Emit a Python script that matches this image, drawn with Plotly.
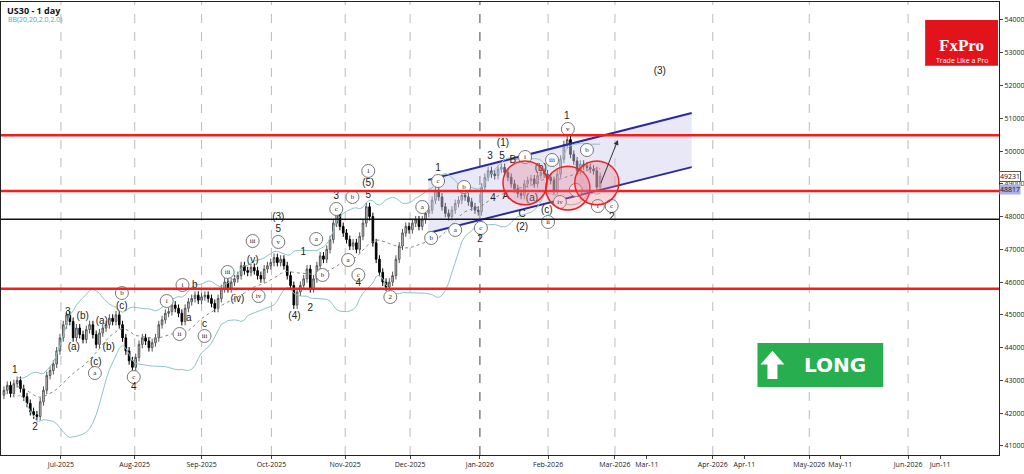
import numpy as np
import pandas as pd
import plotly.graph_objects as go

# daily closes, one per trading-day slot
closes = [42700, 42850, 42600, 42900, 43000, 42750, 42500, 42300, 42050, 41950,
          41900, 42350, 42700, 43150, 43300, 43500, 43900, 44300, 44700, 45000,
          44800, 44300, 44600, 44400, 44250, 44550, 44700, 44400, 44100, 44450,
          44600, 44700, 44900, 44800, 45000, 44700, 44300, 43900, 43600, 43400,
          43700, 44100, 44300, 44200, 44000, 44150, 44300, 44700, 44850, 45050,
          45100, 45300, 45200, 45050, 44800, 45200, 45400, 45500, 45600, 45450,
          45550, 45600, 45500, 45350, 45200, 45500, 45800, 46000, 45800, 46000,
          46100, 46200, 46500, 46350, 46300, 46450, 46350, 46200, 46100, 46400,
          46500, 46600, 46750, 46600, 46700, 46500, 46200, 45900, 45300, 45700,
          45900, 46100, 46400, 45800, 46100, 46500, 46800, 46700, 47000, 47300,
          47800, 48100, 47700, 47500, 47300, 47100, 47200, 47000, 47400, 47800,
          48300, 48000, 47200, 46700, 46300, 46000, 45850, 46000, 46200, 46700,
          47100, 47500, 47700, 47600, 47800, 47900, 47700, 47900, 48100, 48200,
          48500, 48800, 48600, 48300, 48100, 48000, 48200, 48400, 48500, 48650,
          48600, 48450, 48300, 48200, 48150, 48900, 49200, 49400, 49300, 49250,
          49450, 49500, 49350, 49200, 49000, 48850, 48700, 48650, 49000, 49100,
          49150, 49000, 49250, 49350, 49300, 49200, 49100, 48800, 49300, 49750,
          50200, 50350, 49900, 49700, 49400, 49600, 49550, 49500, 49450, 49400,
          48900, 49230]

levels_red = [50480, 48780, 45800]
level_black = 47920

channel_x = [128.8, 208.8]
channel_top = [49120, 51160]
channel_bot = [47500, 49510]

circles_x = [158.2, 171.2, 180.0]
circles_y = [49030, 48870, 49030]

tick_vals = [17.3, 39.7, 60, 81.2, 103.6, 123.3, 144.5, 165.2, 185.5, 195.2,
             215.2, 224.8, 244.5, 253.9, 274.5, 284.2]
tick_text = ["Jul-2025", "Aug-2025", "Sep-2025", "Oct-2025", "Nov-2025", "Dec-2025",
             "Jan-2026", "Feb-2026", "Mar-2026", "Mar-11", "Apr-2026", "Apr-11",
             "May-2026", "May-11", "Jun-2026", "Jun-11"]
price_ticks = list(range(41000, 55000, 1000))

# wave labels (plain text)
plain_txt = ["1", "2", "3", "(a)", "(b)", "(a)", "(b)", "(c)", "(c)", "4", "a", "c", "b",
             "(iv)", "(v)", "(3)", "5", "(4)", "1", "2", "4", "3", "5", "(5)",
             "1", "3", "5", "B", "(1)", "4", "A", "C", "(2)", "1", "2", "2", "(3)",
             "(b)", "(a)", "(c)"]
plain_x = [3.3, 9.4, 19.4, 21.2, 23.9, 29.7, 31.8, 27.9, 35.8, 39.4, 56.1, 60.9, 57.9,
           70.9, 75.5, 83.3, 83.3, 88.2, 90.9, 93.0, 107.6, 100.9, 110.6, 110.6,
           131.8, 147.6, 151.2, 154.5, 151.5, 148.5, 152.4, 157.3, 157.3, 170.9, 184.5, 144.5, 199.1,
           163.0, 160.3, 164.8]
plain_y = [43318, 41578, 45088, 43990, 44936, 44784, 44020, 43562, 45271, 42769, 44905, 44722, 45882,
           45485, 46645, 47987, 47621, 44936, 46889, 45210, 45943, 48598, 48659, 48995,
           49453, 49819, 49819, 49727, 50246, 48537, 48598, 48079, 47682, 51070, 47987, 47286, 52413,
           49453, 48537, 48201]

# wave labels (circled)
circ_txt = ["c", "a", "b", "i", "ii", "i", "iii", "iii", "iv", "v", "iii", "a", "b", "c",
            "b", "a", "c", "2", "1", "c", "b", "a", "a", "b", "c", "i", "ii", "iii", "iv",
            "v", "b", "a", "i", "c"]
circ_x = [39.4, 27.6, 35.8, 49.4, 53.3, 54.2, 60.9, 67.9, 77.3, 83.3, 75.5, 94.8, 96.7, 100.9,
          105.8, 104.5, 107.6, 117.3, 110.6, 131.8, 139.7, 127.0, 137.0, 129.7, 144.8, 158.2, 165.2, 166.4, 168.8,
          171.2, 177.0, 173.6, 180.3, 184.5]
circ_y = [43104, 43226, 45668, 45424, 44417, 45912, 44356, 46309, 45576, 47225, 47255, 47316, 46218, 48232,
          48598, 46675, 46218, 45546, 49392, 49086, 48903, 48293, 47591, 47347, 47652, 49819, 47835, 49727, 48446,
          50673, 50032, 48812, 48323, 48323]

c = pd.Series(closes, dtype=float)
o = c.shift(1).fillna(c.iloc[0] - 150)
hi = np.maximum(o, c) + 120
lo = np.minimum(o, c) - 120
slots = np.arange(len(c))
mid = c.rolling(20, min_periods=5).mean()
sd = c.rolling(20, min_periods=5).std(ddof=0)

fig = go.Figure()

fig.add_trace(go.Scatter(x=channel_x + channel_x[::-1], y=channel_top + channel_bot[::-1],
                         mode="lines", fill="toself", fillcolor="rgba(205,205,235,0.45)",
                         line=dict(width=0), hoverinfo="skip"))
fig.add_trace(go.Scatter(x=channel_x, y=channel_top, mode="lines", line=dict(color="#2a2aa0", width=2)))
fig.add_trace(go.Scatter(x=channel_x, y=channel_bot, mode="lines", line=dict(color="#2a2aa0", width=2)))

fig.add_trace(go.Scatter(x=slots, y=mid + 2 * sd, mode="lines", line=dict(color="#8fc4c4", width=1)))
fig.add_trace(go.Scatter(x=slots, y=mid - 2 * sd, mode="lines", line=dict(color="#8fc4c4", width=1)))
fig.add_trace(go.Scatter(x=slots, y=mid, mode="lines", line=dict(color="#888", width=1, dash="dot")))

fig.add_trace(go.Candlestick(x=slots, open=o, high=hi, low=lo, close=c,
                             increasing=dict(line=dict(color="#555", width=1), fillcolor="#d8d8d8"),
                             decreasing=dict(line=dict(color="#000", width=1), fillcolor="#000"),
                             whiskerwidth=0))

fig.add_trace(go.Scatter(x=circ_x, y=circ_y, mode="markers+text", text=circ_txt,
                         textfont=dict(size=7, color="#222", family="Liberation Serif"),
                         marker=dict(symbol="circle", size=13, color="white",
                                     line=dict(color="#777", width=1))))
fig.add_trace(go.Scatter(x=plain_x, y=plain_y, mode="text", text=plain_txt,
                         textfont=dict(size=10, color="#222", family="Liberation Sans")))

shapes = []
for t, lab in zip(tick_vals, tick_text):
    if "-20" in lab:
        shapes.append(dict(type="line", xref="x", yref="paper", x0=t, x1=t, y0=0, y1=1,
                           line=dict(color="#444" if lab == "Jan-2026" else "#bbb", width=1, dash="dash"),
                           layer="below"))
for lv in levels_red:
    shapes.append(dict(type="line", xref="paper", yref="y", x0=0, x1=1, y0=lv, y1=lv,
                       line=dict(color="#ff1a1a", width=2.5)))
shapes.append(dict(type="line", xref="paper", yref="y", x0=0, x1=1, y0=level_black, y1=level_black,
                   line=dict(color="#111", width=1.5)))
for cx, cy in zip(circles_x, circles_y):
    shapes.append(dict(type="circle", xref="x", yref="y", x0=cx - 6.7, x1=cx + 6.7,
                       y0=cy - 670, y1=cy + 670, line=dict(color="#ee2222", width=1.5),
                       fillcolor="rgba(230,120,140,0.3)"))
# FxPro logo and LONG badge with its up arrow
shapes.append(dict(type="rect", xref="paper", yref="paper", x0=0.926, x1=0.999, y0=0.859, y1=0.960,
                   fillcolor="#e3131b", line=dict(width=0)))
shapes.append(dict(type="rect", xref="paper", yref="paper", x0=0.758, x1=0.884, y0=0.150, y1=0.247,
                   fillcolor="#27ae4f", line=dict(width=0)))
shapes.append(dict(type="path", xref="paper", yref="paper",
                   path="M 0.768 0.168 L 0.778 0.168 L 0.778 0.200 L 0.785 0.200 L 0.773 0.230 "
                        "L 0.761 0.200 L 0.768 0.200 Z",
                   fillcolor="white", line=dict(width=0)))

annotations = [
    dict(x=186.4, y=50340, ax=181, ay=48970, xref="x", yref="y", axref="x", ayref="y",
         showarrow=True, arrowhead=2, arrowsize=1, arrowwidth=1, arrowcolor="#333", text=""),
    dict(x=0.004, y=1.0, xref="paper", yref="paper", xanchor="left", yanchor="top",
         text="<b>US30 - 1 day</b>", showarrow=False, font=dict(size=9, color="#111")),
    dict(x=0.005, y=0.975, xref="paper", yref="paper", xanchor="left", yanchor="top",
         text="BB(20,20,2.0,2.0)", showarrow=False, font=dict(size=7, color="#5aa5a5")),
    dict(x=0.9625, y=0.93, xref="paper", yref="paper", xanchor="center", text="<b>FxPro</b>",
         showarrow=False, font=dict(size=17, color="white", family="Liberation Serif")),
    dict(x=0.9625, y=0.885, xref="paper", yref="paper", xanchor="center", text="Trade Like a Pro",
         showarrow=False, font=dict(size=7, color="white")),
    dict(x=0.836, y=0.198, xref="paper", yref="paper", xanchor="center", yanchor="middle",
         text="<b>LONG</b>", showarrow=False, font=dict(size=20, color="white", family="DejaVu Sans")),
    dict(x=1.0, y=49231, xref="paper", yref="y", xanchor="left", text="49231", showarrow=False,
         bgcolor="white", bordercolor="#555", borderwidth=1, borderpad=0, font=dict(size=7, color="#111")),
    dict(x=1.0, y=48817, xref="paper", yref="y", xanchor="left", text="48817", showarrow=False,
         bgcolor="#aab0e8", borderpad=0, font=dict(size=7, color="#111")),
]

fig.update_layout(
    width=1024, height=474, margin=dict(l=0, r=24, t=2, b=19),
    plot_bgcolor="white", paper_bgcolor="white", showlegend=False,
    shapes=shapes, annotations=annotations,
    xaxis=dict(range=[-0.9, 302.1], tickvals=tick_vals, ticktext=tick_text, showgrid=False,
               rangeslider=dict(visible=False), zeroline=False, ticks="outside", ticklen=3,
               tickfont=dict(size=7, color="#222"), showline=True, linecolor="#222", mirror=True),
    yaxis=dict(range=[40724, 54549], side="right", tickvals=price_ticks,
               ticktext=[str(p) for p in price_ticks], showgrid=False, zeroline=False,
               ticks="outside", ticklen=3, tickfont=dict(size=7, color="#222"),
               showline=True, linecolor="#222", mirror=True),
)

fig.write_html("out.html", config={"displayModeBar": False},
               post_script="document.body.style.margin='0';")
